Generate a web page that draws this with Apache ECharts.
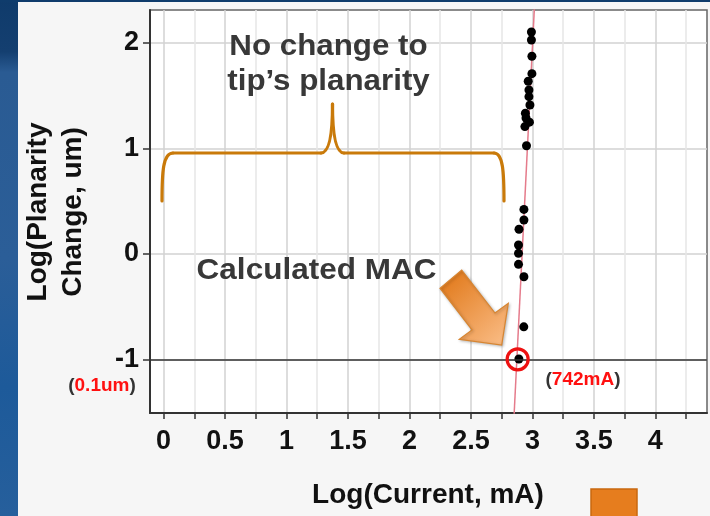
<!DOCTYPE html>
<html>
<head>
<meta charset="utf-8">
<script src="https://cdn.jsdelivr.net/npm/echarts@6/dist/echarts.min.js"></script>
<style>html,body{margin:0;padding:0;background:#f6f6f6;}#c{width:710px;height:516px;}</style>
</head>
<body>
<div id="c"></div>
<script>
// ---- data ----
const currentLog = [2.992, 2.992, 2.996, 2.996, 2.966, 2.972, 2.972, 2.980, 2.943, 2.948, 2.976, 2.939, 2.952,
                    2.931, 2.931, 2.891, 2.887, 2.887, 2.887, 2.931, 2.930, 2.890];
const planarityLog = [2.104, 2.028, 1.874, 1.709, 1.637, 1.554, 1.491, 1.412, 1.334, 1.289, 1.249, 1.207, 1.026,
                      0.422, 0.321, 0.234, 0.084, 0.005, -0.099, -0.217, -0.692, -0.997];
const fitX = [2.848, 3.019];
const fitY = [-1.6, 2.4];
const macX = [2.88];
const macY = [-1];
const thresholdY = [-1];
const xTickValues = [0, 0.25, 0.5, 0.75, 1, 1.25, 1.5, 1.75, 2, 2.25, 2.5, 2.75, 3, 3.25, 3.5, 3.75, 4, 4.25];
const xLabelValues = [0, 0.5, 1, 1.5, 2, 2.5, 3, 3.5, 4];
const yTickValues = [-1, 0, 1, 2];

const FONT = "'Liberation Sans', Arial, sans-serif";
const chart = echarts.init(document.getElementById('c'), null, {renderer: 'canvas'});

const points = currentLog.map((x, i) => [x, planarityLog[i]]);
const fitLine = fitX.map((x, i) => [x, fitY[i]]);
const macPoint = macX.map((x, i) => [x, macY[i]]);

const braceStyle = {fill: 'none', stroke: '#c97a0a', lineWidth: 3.2, lineCap: 'round'};
function curve(x1, y1, cpx1, cpy1, cpx2, cpy2, x2, y2) {
  const shape = {x1, y1, x2, y2, cpx1, cpy1};
  if (cpx2 != null) { shape.cpx2 = cpx2; shape.cpy2 = cpy2; }
  return {type: 'bezierCurve', z: 10, shape, style: braceStyle};
}
function seg(x1, y1, x2, y2) {
  return {type: 'line', z: 10, shape: {x1, y1, x2, y2}, style: braceStyle};
}

const option = {
  animation: false,
  backgroundColor: '#f6f6f6',
  grid: {left: 150, top: 10, right: 3, bottom: 103, show: true, backgroundColor: '#ffffff',
         borderColor: '#666', borderWidth: 1.5},
  xAxis: {
    type: 'value', min: -0.11, max: 4.42,
    axisLine: {show: true, onZero: false, lineStyle: {color: '#333', width: 2}},
    axisTick: {show: true, customValues: xTickValues, length: 6, lineStyle: {color: '#333', width: 1.5}},
    axisLabel: {customValues: xLabelValues, margin: 15, fontSize: 27, fontWeight: 'bold', color: '#111', fontFamily: FONT},
    splitLine: {show: true, lineStyle: {color: ['#d2d2d2', '#e6e6e6'], width: 1.5}}
  },
  yAxis: {
    type: 'value', min: -1.509, max: 2.313,
    axisLine: {show: true, onZero: false, lineStyle: {color: '#333', width: 2}},
    axisTick: {show: true, customValues: yTickValues, length: 7, lineStyle: {color: '#333', width: 1.5}},
    axisLabel: {customValues: yTickValues, margin: 11, fontSize: 27, fontWeight: 'bold', color: '#111', fontFamily: FONT},
    splitLine: {show: true, lineStyle: {color: '#d2d2d2', width: 1.5}}
  },
  series: [
    {
      type: 'line', data: fitLine, symbol: 'none', silent: true, z: 3,
      lineStyle: {color: '#e57b8b', width: 1.5}
    },
    {
      type: 'scatter', data: points, symbolSize: 9, z: 4, silent: true,
      itemStyle: {color: '#000', opacity: 1},
      markLine: {
        silent: true, symbol: 'none', label: {show: false},
        lineStyle: {color: '#333', width: 1.5, type: 'solid'},
        data: thresholdY.map(v => ({yAxis: v}))
      }
    },
    {
      type: 'scatter', data: macPoint, symbolSize: 21, z: 5, silent: true,
      itemStyle: {color: 'rgba(0,0,0,0)', borderColor: '#ee1111', borderWidth: 3.2, opacity: 1}
    }
  ],
  graphic: [
    {type: 'rect', z: 10, shape: {x: 0, y: 0, width: 18, height: 516},
     style: {fill: {type: 'linear', x: 0, y: 0, x2: 0, y2: 1, colorStops: [
       {offset: 0, color: '#0f3b6b'}, {offset: 0.1, color: '#143f70'}, {offset: 0.14, color: '#2a5b93'},
       {offset: 0.5, color: '#2b5e98'}, {offset: 0.75, color: '#1d5a9a'}, {offset: 1, color: '#265f9c'}]}}},
    {type: 'rect', z: 10, shape: {x: 0, y: 0, width: 710, height: 2}, style: {fill: '#0f3c6c'}},
    // y axis name
    {type: 'text', z: 10, x: 55.5, y: 212, rotation: Math.PI / 2,
     style: {text: 'Log(Planarity\nChange, um)', font: 'bold 28px ' + FONT, lineHeight: 35,
             fill: '#111', textAlign: 'center', textVerticalAlign: 'middle'}},
    // x axis name
    {type: 'text', z: 10, x: 428, y: 495,
     style: {text: 'Log(Current, mA)', font: 'bold 28px ' + FONT, fill: '#111',
             textAlign: 'center', textVerticalAlign: 'middle'}},
    // annotations
    {type: 'text', z: 10, x: 328.5, y: 64, scaleX: 1.08,
     style: {text: 'No change to\ntip\u2019s planarity', font: 'bold 29px ' + FONT, lineHeight: 35,
             fill: '#383838', textAlign: 'center', textVerticalAlign: 'middle'}},
    {type: 'text', z: 10, x: 316.5, y: 271, scaleX: 1.05,
     style: {text: 'Calculated MAC', font: 'bold 30px ' + FONT, fill: '#383838',
             textAlign: 'center', textVerticalAlign: 'middle'}},
    {type: 'text', z: 10, x: 102, y: 386,
     style: {text: '{p|(}{r|0.1um}{p|)}', textAlign: 'center', textVerticalAlign: 'middle',
             rich: {p: {font: 'bold 19px ' + FONT, fill: '#333'}, r: {font: 'bold 19px ' + FONT, fill: '#ff1010'}}}},
    {type: 'text', z: 10, x: 583, y: 380,
     style: {text: '{p|(}{r|742mA}{p|)}', textAlign: 'center', textVerticalAlign: 'middle',
             rich: {p: {font: 'bold 19px ' + FONT, fill: '#333'}, r: {font: 'bold 19px ' + FONT, fill: '#ff1010'}}}},
    // brace
    curve(162, 201, 162, 172, 163, 153, 173, 153),
    seg(173, 153, 321, 153),
    curve(321, 153, 332.5, 153, null, null, 332.5, 104),
    curve(332.5, 104, 332.5, 153, null, null, 344, 153),
    seg(344, 153, 494, 153),
    curve(494, 153, 503, 153, 504, 172, 504, 201),
    // arrow
    {type: 'polygon', z: 10,
     shape: {points: [[461.7, 270], [495, 313], [508.3, 303.3], [501.7, 345], [459.3, 339.3], [472, 330], [440, 288.3]]},
     style: {fill: {type: 'linear', x: 0, y: 0, x2: 1, y2: 1, colorStops: [
       {offset: 0, color: '#df7412'}, {offset: 1, color: '#fbbf8a'}]},
       stroke: '#d88530', lineWidth: 1.2, shadowBlur: 3, shadowColor: 'rgba(0,0,0,0.25)', shadowOffsetX: 1, shadowOffsetY: 1}},
    // orange square
    {type: 'rect', z: 10, shape: {x: 591, y: 489, width: 46, height: 30},
     style: {fill: '#e67d1e', stroke: '#c9680f', lineWidth: 1.5}}
  ]
};
chart.setOption(option);
</script>
</body>
</html>
